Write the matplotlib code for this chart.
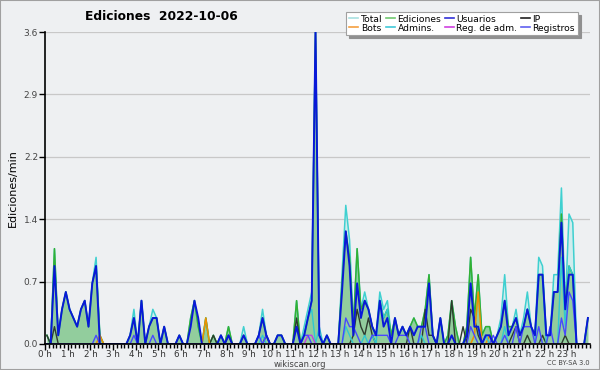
import numpy as np
import matplotlib
matplotlib.use("Agg")
import matplotlib.pyplot as plt
from matplotlib.lines import Line2D
from matplotlib.ticker import FixedLocator, MultipleLocator

# counts per 10-minute bin (edits / 10 min); rate per minute = count / 10
def sparse(d, n=144):
    a = [0] * n
    for k, v in d.items():
        a[k] = v
    return a

total = [1,0,11,1,4,6, 4,3,2,4,5,2, 7,10,1,0,0,0, 0,0,0,0,1,4,
         0,5,0,2,4,3, 0,2,0,0,0,1, 0,0,3,5,2,0, 3,0,1,0,1,0,
         2,0,0,0,2,0, 0,0,1,4,1,0, 0,1,1,0,0,0, 5,0,2,4,6,36,
         1,0,1,0,0,0, 8,16,12,2,11,4, 6,4,2,1,6,4, 5,1,3,1,2,1,
         2,3,2,2,4,8, 1,0,3,0,1,5, 2,0,0,2,10,3, 8,1,2,2,0,1,
         3,8,2,2,4,1, 3,6,2,1,10,9, 1,1,8,8,18,4, 15,14,0,0,0,3]
ediciones = [1,0,11,1,4,6, 4,3,2,4,5,2, 7,9,1,0,0,0, 0,0,0,0,1,3,
         0,5,0,2,3,3, 0,2,0,0,0,1, 0,0,3,5,2,0, 3,0,1,0,1,0,
         2,0,0,0,1,0, 0,0,1,3,1,0, 0,1,1,0,0,0, 5,0,1,3,5,36,
         1,0,1,0,0,0, 7,13,10,2,11,4, 5,4,2,1,5,3, 4,1,3,1,2,1,
         2,3,2,2,4,8, 1,0,3,0,1,5, 2,0,0,2,10,3, 8,1,2,2,0,1,
         2,5,2,2,3,1, 2,4,2,1,8,8, 1,1,6,6,15,4, 9,8,0,0,0,3]
usuarios = [0,0,9,1,4,6, 4,3,2,4,5,2, 7,9,0,0,0,0, 0,0,0,0,1,3,
         0,5,0,2,3,3, 0,2,0,0,0,1, 0,0,2,5,3,0, 0,0,0,0,1,0,
         1,0,0,0,1,0, 0,0,1,3,1,0, 0,1,1,0,0,0, 2,0,1,3,5,36,
         1,0,1,0,0,0, 6,13,9,1,7,3, 5,4,2,1,5,2, 3,0,3,1,2,1,
         2,1,2,2,2,7, 1,0,3,0,0,1, 0,0,0,1,7,2, 2,0,1,1,0,1,
         2,5,1,2,3,1, 2,4,2,1,8,8, 1,1,6,6,14,4, 8,8,0,0,0,3]
ip = sparse({0:1, 2:2, 44:1, 48:1, 58:1, 66:3, 81:1, 82:4, 83:2, 84:1, 85:3,
             86:1, 96:2, 100:4, 101:1, 102:1, 107:5, 110:2, 112:4, 113:3,
             114:1, 123:1, 124:2, 127:1, 131:1, 137:1})
bots = sparse({14:1, 42:3, 113:1, 114:6, 117:1})
admins = sparse({57:1, 68:1, 69:3, 70:4, 72:2, 79:2, 80:1, 84:1, 86:1,
                 88:5, 89:3, 90:4, 99:1, 116:1, 121:2, 130:8, 131:8,
                 136:10, 137:2, 138:9, 139:8})
reg_adm = sparse({69:1, 70:1})
registros = sparse({13:1, 23:1, 28:1, 56:1, 58:1, 68:1, 69:1, 79:3, 80:2,
                    81:2, 82:1, 86:1, 87:1, 88:1, 89:1, 90:1, 93:1, 94:1,
                    95:1, 99:2, 100:2, 112:2, 113:1, 118:1, 121:1, 124:2,
                    126:2, 127:2, 128:2, 130:2, 133:2, 136:3, 137:1,
                    138:6, 139:5})

hour_labels = [f"{h} h" for h in range(24)]
y_ticks = [0, 0.72, 1.44, 2.16, 2.88, 3.6]
y_tick_labels = ["0.0", "0.7", "1.4", "2.2", "2.9", "3.6"]

x = (np.arange(144) + 0.5) / 6.0
rate = lambda s: np.array(s) / 10.0

bg = "#eef0f2"
fig = plt.figure(figsize=(6.0, 3.7), dpi=100, facecolor=bg)
fig.patches.append(plt.Rectangle((0, 0), 1, 1, transform=fig.transFigure,
                                 fill=False, edgecolor="#a0a0a0", lw=1.5))
ax = fig.add_axes([0.075, 0.0703, 0.908, 0.8432])
ax.set_facecolor(bg)

ax.fill_between(x, rate(total), color="#c9ecec", alpha=0.8, lw=0)
ax.plot(x, rate(total), color="#3fd0d0", lw=1.1)
ax.fill_between(x, rate(ediciones), color="#72bd72", alpha=0.65, lw=0)
ax.plot(x, rate(ediciones), color="#33b033", lw=1.1)
ax.plot(x, rate(ip), color="#2e3a2e", lw=1.0)
ax.plot(x, rate(bots), color="#f09000", lw=1.1)
ax.plot(x, rate(admins), color="#30c8d0", lw=1.0)
ax.plot(x, rate(reg_adm), color="#c040e0", lw=1.0)
ax.plot(x, rate(registros), color="#4848ff", lw=1.0)
ax.plot(x, rate(usuarios), color="#0818d8", lw=1.4)

ax.set_xlim(0, 24)
ax.set_ylim(0, 3.6)
ax.yaxis.set_major_locator(FixedLocator(y_ticks))
ax.set_yticklabels(y_tick_labels)
ax.set_xticks(np.arange(24))
ax.set_xticklabels(hour_labels)
ax.xaxis.set_minor_locator(MultipleLocator(1 / 6))
ax.grid(axis="y", color="#c8c8c8", lw=0.9)
ax.set_axisbelow(True)
for s in ("top", "right"):
    ax.spines[s].set_visible(False)
ax.spines["left"].set_linewidth(1.2)
ax.spines["bottom"].set_linewidth(1.2)
ax.tick_params(axis="y", labelsize=6.5, length=4, width=1, pad=1, colors="#000000", labelcolor="#444444")
ax.tick_params(axis="x", which="major", labelsize=6.3, length=4, width=1, pad=0.5, labelcolor="#333333")
ax.tick_params(axis="x", which="minor", length=3, width=1)

ax.set_ylabel("Ediciones/min", fontsize=8, labelpad=4)
fig.text(0.142, 0.955, "Ediciones  2022-10-06", fontsize=8.8, fontweight="bold",
         ha="left", va="center")
fig.text(0.5, 0.016, "wikiscan.org", fontsize=6, ha="center", va="center", color="#444444")
fig.text(0.982, 0.018, "CC BY-SA 3.0", fontsize=4.8, ha="right", va="center", color="#444444")

handles = [
    Line2D([], [], color="#a8e0e0", lw=1.2, label="Total"),
    Line2D([], [], color="#f5a040", lw=1.2, label="Bots"),
    Line2D([], [], color="#70c870", lw=1.2, label="Ediciones"),
    Line2D([], [], color="#40c8d8", lw=1.2, label="Admins."),
    Line2D([], [], color="#3030d8", lw=1.2, label="Usuarios"),
    Line2D([], [], color="#d040e0", lw=1.2, label="Reg. de adm."),
    Line2D([], [], color="#202020", lw=1.2, label="IP"),
    Line2D([], [], color="#6060f0", lw=1.2, label="Registros"),
]
leg = fig.legend(handles=handles, ncol=4, loc="upper left",
                 bbox_to_anchor=(0.577, 0.968), fontsize=6.6, frameon=True,
                 fancybox=False, shadow={"color": "#909090", "alpha": 1.0},
                 handlelength=1.0, handletextpad=0.3, columnspacing=0.35,
                 labelspacing=0.0, borderpad=0.3, borderaxespad=0)
leg.get_frame().set_edgecolor("#a0a0a0")
leg.get_frame().set_linewidth(0.8)

fig.savefig("out.png", dpi=100, facecolor=bg)
